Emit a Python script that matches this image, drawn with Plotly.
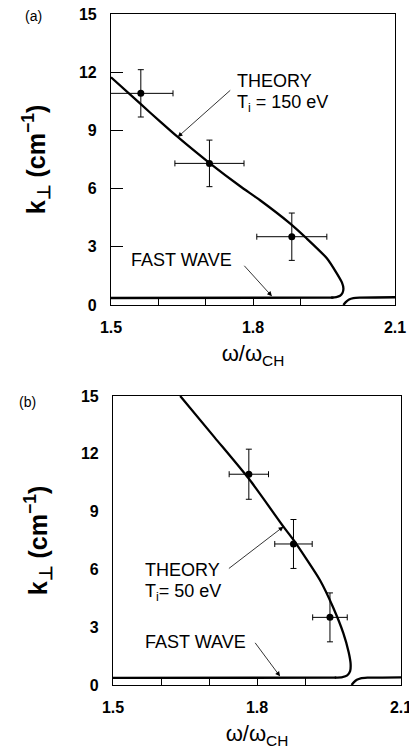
import plotly.graph_objects as go

# ---------------- data: panel (a), Ti = 150 eV ----------------
a_pts_x = [1.563, 1.708, 1.882]
a_pts_y = [10.91, 7.30, 3.52]
a_err_x = [0.068, 0.073, 0.074]
a_err_y = [1.22, 1.20, 1.22]

a_theory_x = [1.500, 1.563, 1.604, 1.639, 1.709, 1.773, 1.815, 1.878, 1.913, 1.956, 1.977, 1.988, 1.991, 1.989, 1.984, 1.976, 1.965]
a_theory_y = [11.74, 10.35, 9.45, 8.70, 7.30, 6.12, 5.40, 4.21, 3.44, 2.41, 1.63, 1.15, 0.85, 0.62, 0.48, 0.41, 0.38]

a_fast_x = [1.500, 1.700, 1.900, 1.970]
a_fast_y = [0.36, 0.37, 0.38, 0.38]

a_right_x = [1.991, 1.996, 2.003, 2.012, 2.025, 2.100]
a_right_y = [0.00, 0.15, 0.28, 0.35, 0.38, 0.40]

# ---------------- data: panel (b), Ti = 50 eV ----------------
b_pts_x = [1.783, 1.876, 1.952]
b_pts_y = [10.94, 7.32, 3.51]
b_err_x = [0.041, 0.039, 0.036]
b_err_y = [1.30, 1.27, 1.27]

b_theory_x = [1.640, 1.712, 1.785, 1.855, 1.876, 1.931, 1.958, 1.980, 1.991, 1.995, 1.994, 1.988, 1.978, 1.962]
b_theory_y = [15.00, 12.84, 10.64, 8.22, 7.53, 5.45, 4.06, 2.68, 1.70, 1.10, 0.72, 0.50, 0.41, 0.38]

b_fast_x = [1.500, 1.700, 1.900, 1.965]
b_fast_y = [0.37, 0.37, 0.38, 0.38]

b_right_x = [1.997, 2.002, 2.008, 2.016, 2.030, 2.100]
b_right_y = [0.00, 0.15, 0.27, 0.35, 0.38, 0.40]

x_tickvals = [1.5, 1.8, 2.1]
x_ticktext = ["1.5", "1.8", "2.1"]
x_minorvals = [1.6, 1.7, 1.9]
y_tickvals = [0, 3, 6, 9, 12, 15]
y_ticktext = ["0", "3", "6", "9", "12", "15"]

FONT = "Liberation Sans"
W, H = 409, 748   # page has an 8px body margin; figure coords = page coords - 8
OFF = 8

def px_x(p):
    return (p - OFF) / W

def px_y(p):
    return 1 - (p - OFF) / H

fig = go.Figure()

def add_panel(xa, ya, tx, ty, fx, fy, rx, ry, px, py, ex, ey):
    line = dict(color="black", width=2.3, shape="spline", smoothing=0.6)
    fig.add_trace(go.Scatter(x=tx, y=ty, mode="lines", line=line, xaxis=xa, yaxis=ya, showlegend=False, hoverinfo="skip"))
    fig.add_trace(go.Scatter(x=fx, y=fy, mode="lines", line=dict(color="black", width=2.3), xaxis=xa, yaxis=ya, showlegend=False, hoverinfo="skip"))
    fig.add_trace(go.Scatter(x=rx, y=ry, mode="lines", line=line, xaxis=xa, yaxis=ya, showlegend=False, hoverinfo="skip"))
    fig.add_trace(go.Scatter(
        x=px, y=py, mode="markers", xaxis=xa, yaxis=ya, showlegend=False,
        marker=dict(color="black", size=7, symbol="circle"),
        error_x=dict(type="data", array=ex, color="black", thickness=1, width=3),
        error_y=dict(type="data", array=ey, color="black", thickness=1, width=3),
    ))

add_panel("x", "y", a_theory_x, a_theory_y, a_fast_x, a_fast_y, a_right_x, a_right_y,
          a_pts_x, a_pts_y, a_err_x, a_err_y)
add_panel("x2", "y2", b_theory_x, b_theory_y, b_fast_x, b_fast_y, b_right_x, b_right_y,
          b_pts_x, b_pts_y, b_err_x, b_err_y)

tickfont = dict(family=FONT, size=16, color="black", weight="bold")
xtitle = dict(text="ω/ω<sub>CH</sub>", font=dict(family=FONT, size=22, color="black"), standoff=10)
ytitle = dict(text="k<sub>⊥</sub> (cm<sup>−1</sup>)", font=dict(family=FONT, size=25, color="black", weight="bold"), standoff=26)

def xaxis(domain, anchor):
    return dict(domain=domain, anchor=anchor, range=[1.5, 2.1], showline=True, mirror=True,
                linecolor="black", linewidth=1.2, ticks="inside", ticklen=8, tickwidth=1,
                tickcolor="black", tickvals=x_tickvals, ticktext=x_ticktext, tickfont=tickfont,
                minor=dict(tickvals=x_minorvals, ticks="inside", ticklen=8, tickwidth=1, tickcolor="black"),
                showgrid=False, zeroline=False, title=xtitle, automargin=False, ticklabelstandoff=8,
                ticklabeloverflow="allow")

def yaxis(domain, anchor, ticklen):
    return dict(domain=domain, anchor=anchor, range=[0, 15], showline=True, mirror=True,
                linecolor="black", linewidth=1.2, ticks="inside" if ticklen else "", ticklen=ticklen,
                tickwidth=1, tickcolor="black", tickvals=y_tickvals, ticktext=y_ticktext,
                tickfont=tickfont, showgrid=False, zeroline=False, title=ytitle, automargin=False,
                ticklabelstandoff=10, ticklabeloverflow="allow")

fig.update_layout(
    width=W, height=H, margin=dict(l=0, r=0, t=0, b=0),
    paper_bgcolor="white", plot_bgcolor="white",
    xaxis=xaxis([px_x(111), px_x(395)], "y"),
    yaxis=yaxis([px_y(305), px_y(14)], "x", 12),
    xaxis2=xaxis([px_x(113), px_x(401)], "y2"),
    yaxis2=yaxis([px_y(685), px_y(396)], "x2", 0),
)

afont = dict(family=FONT, size=18, color="black")
arrow = dict(showarrow=True, arrowhead=2, arrowsize=1.2, arrowwidth=0.8, arrowcolor="black",
             axref="pixel", ayref="pixel", text="")
ann = []
# panel labels
ann.append(dict(text="(a)", x=px_x(23), y=px_y(16), xref="paper", yref="paper", xanchor="left", yanchor="middle", showarrow=False, font=dict(family=FONT, size=14, color="black")))
ann.append(dict(text="(b)", x=px_x(17), y=px_y(402), xref="paper", yref="paper", xanchor="left", yanchor="middle", showarrow=False, font=dict(family=FONT, size=14, color="black")))
# panel (a) labels
ann.append(dict(text="THEORY", x=1.762, y=11.55, xref="x", yref="y", xanchor="left", yanchor="middle", showarrow=False, font=afont))
ann.append(dict(text="T<sub>i</sub> = 150 eV", x=1.762, y=10.40, xref="x", yref="y", xanchor="left", yanchor="middle", showarrow=False, font=afont))
ann.append(dict(text="FAST WAVE", x=1.538, y=2.32, xref="x", yref="y", xanchor="left", yanchor="middle", showarrow=False, font=afont))
ann.append(dict(x=1.641, y=8.66, xref="x", yref="y", ax=54, ay=-48, **arrow))
ann.append(dict(x=1.840, y=0.45, xref="x", yref="y", ax=-29, ay=-32, **arrow))
# panel (b) labels
ann.append(dict(text="THEORY", x=1.5625, y=5.97, xref="x2", yref="y2", xanchor="left", yanchor="middle", showarrow=False, font=afont))
ann.append(dict(text="T<sub>i</sub>= 50 eV", x=1.5625, y=4.80, xref="x2", yref="y2", xanchor="left", yanchor="middle", showarrow=False, font=afont))
ann.append(dict(text="FAST WAVE", x=1.562, y=2.25, xref="x2", yref="y2", xanchor="left", yanchor="middle", showarrow=False, font=afont))
ann.append(dict(x=1.855, y=8.22, xref="x2", yref="y2", ax=-56, ay=43, **arrow))
ann.append(dict(x=1.848, y=0.45, xref="x2", yref="y2", ax=-26, ay=-35, **arrow))
fig.update_layout(annotations=ann)

fig.write_html("out.html")
